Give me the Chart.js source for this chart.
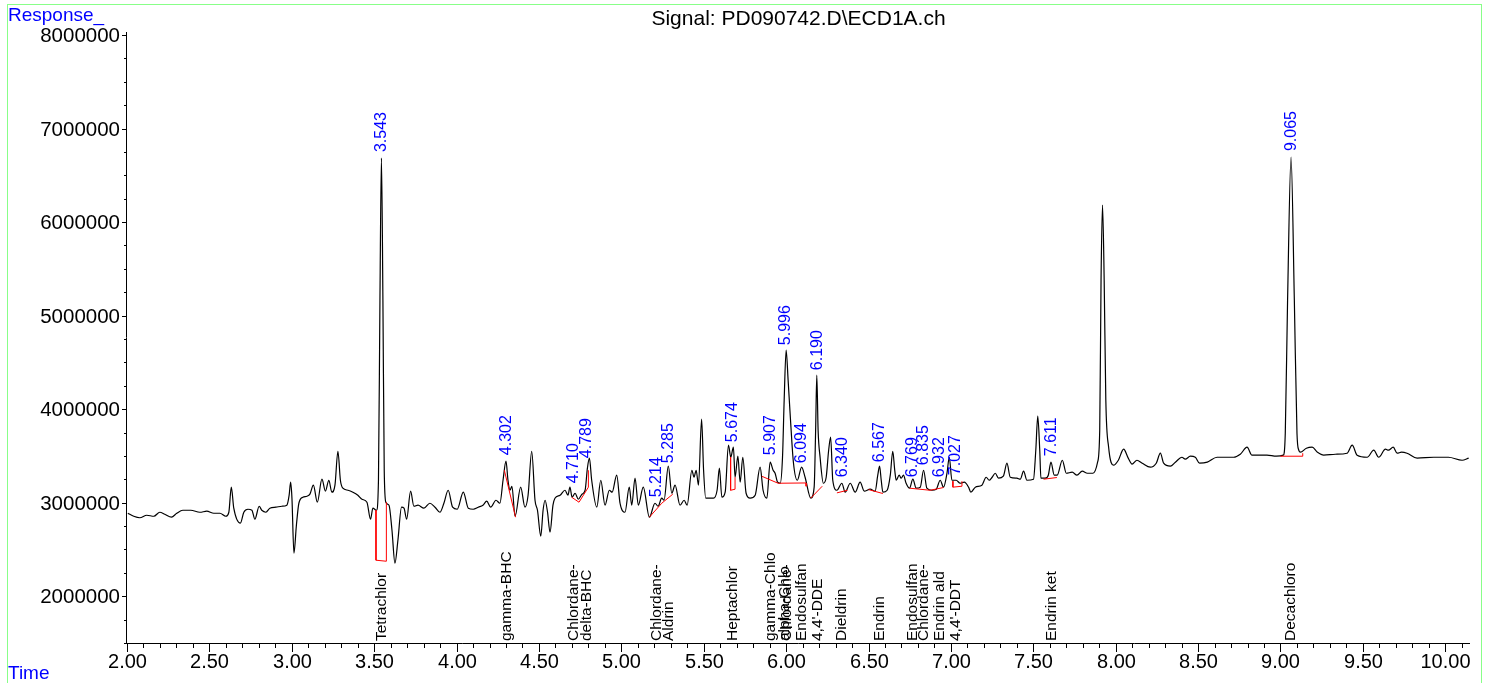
<!DOCTYPE html>
<html>
<head>
<meta charset="utf-8">
<script src="https://cdn.jsdelivr.net/npm/chart.js@4.4.1/dist/chart.umd.min.js"></script>
<style>
  html, body { margin: 0; padding: 0; background: #fff; overflow: hidden; }
  canvas { display: block; }
</style>
</head>
<body>
<canvas id="chrom" width="1485" height="683"></canvas>
<script>
// retention time (min) and detector response (millions of counts)
const times = [
  2.005, 2.041, 2.078, 2.120, 2.163, 2.199, 2.229, 2.270, 2.302, 2.339, 2.387, 2.442, 2.484, 2.527, 2.564,
  2.600, 2.618, 2.633, 2.648, 2.688, 2.709, 2.734, 2.758, 2.776, 2.802, 2.818, 2.843, 2.867, 2.904, 2.940,
  2.970, 2.984, 2.993, 3.001, 3.013, 3.028, 3.043, 3.067, 3.092, 3.110, 3.131, 3.155, 3.183, 3.204, 3.225,
  3.243, 3.262, 3.280, 3.295, 3.310, 3.341, 3.371, 3.401, 3.426, 3.456, 3.478, 3.492, 3.514, 3.526, 3.535,
  3.544, 3.553, 3.561, 3.571, 3.590, 3.608, 3.626, 3.644, 3.666, 3.681, 3.697, 3.721, 3.741, 3.766, 3.802,
  3.838, 3.869, 3.899, 3.923, 3.949, 3.976, 4.004, 4.041, 4.071, 4.101, 4.132, 4.160, 4.183, 4.207, 4.239,
  4.263, 4.282, 4.300, 4.312, 4.324, 4.336, 4.355, 4.389, 4.415, 4.434, 4.456, 4.476, 4.491, 4.511, 4.525,
  4.537, 4.552, 4.567, 4.585, 4.597, 4.628, 4.658, 4.676, 4.688, 4.701, 4.719, 4.739, 4.761, 4.780, 4.794,
  4.806, 4.820, 4.851, 4.875, 4.901, 4.927, 4.944, 4.972, 4.992, 5.022, 5.048, 5.063, 5.083, 5.103, 5.133,
  5.170, 5.204, 5.223, 5.245, 5.259, 5.285, 5.306, 5.326, 5.356, 5.381, 5.399, 5.428, 5.441, 5.454, 5.468,
  5.487, 5.499, 5.512, 5.559, 5.581, 5.595, 5.610, 5.630, 5.650, 5.664, 5.680, 5.690, 5.707, 5.721, 5.737,
  5.757, 5.781, 5.812, 5.842, 5.860, 5.883, 5.903, 5.921, 5.933, 5.948, 5.964, 5.978, 5.988, 6.000, 6.012,
  6.024, 6.044, 6.068, 6.094, 6.115, 6.150, 6.170, 6.179, 6.186, 6.194, 6.206, 6.226, 6.243, 6.258, 6.270,
  6.283, 6.308, 6.338, 6.358, 6.389, 6.419, 6.449, 6.474, 6.510, 6.540, 6.556, 6.567, 6.577, 6.587, 6.613,
  6.632, 6.647, 6.659, 6.668, 6.686, 6.698, 6.712, 6.728, 6.749, 6.769, 6.789, 6.814, 6.834, 6.854, 6.885,
  6.911, 6.935, 6.955, 6.976, 6.990, 7.006, 7.032, 7.056, 7.081, 7.107, 7.121, 7.148, 7.188, 7.214, 7.232,
  7.250, 7.269, 7.289, 7.318, 7.340, 7.360, 7.400, 7.421, 7.441, 7.461, 7.501, 7.515, 7.527, 7.539, 7.546,
  7.572, 7.591, 7.607, 7.627, 7.645, 7.676, 7.700, 7.736, 7.765, 7.797, 7.828, 7.862, 7.890, 7.903, 7.911,
  7.920, 7.930, 7.940, 7.957, 7.987, 8.016, 8.048, 8.076, 8.099, 8.129, 8.161, 8.210, 8.246, 8.271, 8.291,
  8.332, 8.362, 8.402, 8.422, 8.453, 8.483, 8.509, 8.556, 8.615, 8.716, 8.756, 8.797, 8.827, 8.918, 8.975,
  9.017, 9.029, 9.043, 9.064, 9.084, 9.100, 9.111, 9.121, 9.157, 9.192, 9.224, 9.262, 9.333, 9.404, 9.435,
  9.465, 9.526, 9.566, 9.596, 9.637, 9.655, 9.684, 9.708, 9.734, 9.768, 9.829, 9.930, 10.019, 10.102, 10.142
];
const responseM = [
  2.887, 2.855, 2.839, 2.866, 2.855, 2.898, 2.877, 2.845, 2.887, 2.919, 2.919, 2.898, 2.909, 2.887, 2.887,
  2.855, 2.898, 3.166, 2.941, 2.781, 2.898, 2.930, 2.919, 2.823, 2.962, 2.919, 2.898, 2.941, 2.952, 2.962,
  2.973, 3.080, 3.219, 3.048, 2.460, 2.759, 2.994, 3.058, 3.069, 3.091, 3.187, 3.005, 3.251, 3.123, 3.240,
  3.112, 3.187, 3.550, 3.240, 3.155, 3.133, 3.112, 3.080, 3.037, 3.005, 2.823, 2.941, 2.919, 3.240, 5.166,
  6.684, 5.166, 3.347, 3.005, 2.973, 2.706, 2.353, 2.598, 2.952, 2.941, 2.823, 3.123, 2.962, 2.973, 2.941,
  2.994, 2.952, 2.898, 2.994, 3.133, 2.952, 2.930, 3.112, 2.941, 2.930, 2.952, 2.973, 3.016, 2.952, 3.026,
  2.994, 3.240, 3.444, 3.240, 3.133, 3.176, 2.855, 3.166, 2.952, 3.080, 3.550, 3.026, 2.919, 2.641, 2.919,
  3.026, 2.898, 2.684, 2.973, 3.048, 3.080, 3.133, 3.080, 3.166, 3.058, 3.101, 3.037, 3.091, 3.133, 3.369,
  3.476, 3.240, 2.952, 3.240, 2.973, 3.133, 3.112, 3.294, 2.994, 2.898, 3.166, 2.973, 3.262, 2.973, 3.166,
  2.845, 2.994, 2.962, 3.048, 3.026, 3.390, 3.101, 3.187, 2.973, 3.026, 2.973, 3.347, 3.272, 3.347, 3.187,
  3.893, 3.347, 3.048, 3.048, 3.133, 3.369, 3.058, 3.112, 3.615, 3.486, 3.593, 3.272, 3.497, 3.219, 3.486,
  3.101, 3.048, 3.080, 3.380, 3.133, 3.048, 3.433, 3.347, 3.315, 3.219, 3.208, 3.486, 4.096, 4.631, 4.310,
  3.957, 3.433, 3.240, 3.380, 3.272, 3.048, 3.166, 3.775, 4.363, 3.775, 3.486, 3.208, 3.272, 3.561, 3.700,
  3.240, 3.133, 3.208, 3.112, 3.208, 3.112, 3.219, 3.123, 3.144, 3.123, 3.294, 3.390, 3.240, 3.112, 3.133,
  3.294, 3.550, 3.347, 3.240, 3.294, 3.262, 3.294, 3.208, 3.155, 3.251, 3.155, 3.166, 3.347, 3.155, 3.133,
  3.144, 3.240, 3.166, 3.315, 3.486, 3.240, 3.240, 3.208, 3.219, 3.166, 3.112, 3.166, 3.187, 3.272, 3.240,
  3.272, 3.315, 3.262, 3.283, 3.422, 3.272, 3.262, 3.251, 3.337, 3.240, 3.251, 3.561, 3.925, 3.561, 3.262,
  3.262, 3.294, 3.433, 3.294, 3.294, 3.454, 3.315, 3.326, 3.294, 3.337, 3.315, 3.315, 3.433, 3.775, 5.379,
  6.182, 5.379, 4.096, 3.593, 3.401, 3.454, 3.572, 3.476, 3.412, 3.454, 3.422, 3.380, 3.422, 3.529, 3.422,
  3.390, 3.433, 3.486, 3.465, 3.497, 3.486, 3.422, 3.433, 3.486, 3.486, 3.518, 3.593, 3.508, 3.508, 3.497,
  3.508, 3.743, 5.166, 6.695, 5.166, 3.743, 3.561, 3.540, 3.582, 3.593, 3.540, 3.508, 3.518, 3.529, 3.615,
  3.508, 3.486, 3.561, 3.486, 3.572, 3.561, 3.593, 3.529, 3.540, 3.529, 3.476, 3.486, 3.486, 3.454, 3.476
];

// integration baselines (red), null = break between segments
const baseTimes = [3.511, 3.511, 3.574, 3.574, 3.574, 4.290, 4.358, 4.358, 4.699, 4.743, 4.800, 4.800, 4.800,
  5.170, 5.245, 5.312, 5.312, 5.663, 5.663, 5.690, 5.690, 5.690, 5.852, 5.951, 6.121, 6.121, 6.121,
  6.149, 6.219, 6.219, 6.308, 6.372, 6.372, 6.500, 6.587, 6.587, 6.749, 6.874, 6.955, 6.955,
  7.012, 7.012, 7.067, 7.067, 7.067, 7.562, 7.643, 7.643, 8.999, 9.135, 9.135];
const baseRespM = [2.919, 2.385, 2.374, 3.005, null, 3.347, 2.845, null, 3.058, 3.005, 3.166, 3.347, null,
  2.845, 2.994, 3.091, null, 3.486, 3.133, 3.144, 3.272, null, 3.283, 3.208, 3.211, 3.176, null,
  3.048, 3.176, null, 3.105, 3.133, null, 3.140, 3.098, null, 3.155, 3.133, 3.162, null,
  3.230, 3.166, 3.176, 3.230, null, 3.251, 3.269, null, 3.497, 3.497, 3.529];

// reported peaks
const peakTimes = ['3.543', '4.302', '4.710', '4.789', '5.214', '5.285', '5.674', '5.907', '5.996', '6.094',
  '6.190', '6.340', '6.567', '6.769', '6.835', '6.932', '7.027', '7.611', '9.065'];
const peakTopsM = [6.684, 3.444, 3.144, 3.412, 2.994, 3.358, 3.583, 3.444, 4.620, 3.358,
  4.353, 3.208, 3.369, 3.208, 3.337, 3.208, 3.230, 3.433, 6.695];

// compound names printed along the time axis
const compoundNames = ['Tetrachlor', 'gamma-BHC', 'Chlordane-', 'delta-BHC', 'Chlordane-', 'Aldrin', 'Heptachlor',
  'gamma-Chlo', 'alpha-Chlo', 'Chlordane-', 'Endosulfan', "4,4'-DDE", 'Dieldrin', 'Endrin', 'Endosulfan',
  'Chlordane-', 'Endrin ald', "4,4'-DDT", 'Endrin ket', 'Decachloro'];
const compoundTimes = [3.543, 4.302, 4.710, 4.789, 5.214, 5.285, 5.674, 5.907, 5.990, 6.002, 6.094, 6.190,
  6.340, 6.567, 6.769, 6.835, 6.932, 7.027, 7.611, 9.065];

const FONT = '"Liberation Sans", Arial, sans-serif';

const trace = times.map((t, i) => ({ x: t, y: responseM[i] * 1e6 }));
const baselines = baseTimes.map((t, i) => ({ x: t, y: baseRespM[i] === null ? null : baseRespM[i] * 1e6 }));

const decor = {
  id: 'decor',
  beforeDraw(chart) {
    const ctx = chart.ctx;
    ctx.save();
    ctx.fillStyle = '#fff';
    ctx.fillRect(0, 0, chart.width, chart.height);
    ctx.strokeStyle = '#88ff88';
    ctx.lineWidth = 1;
    ctx.strokeRect(7.5, 4.5, 1474, 720);
    ctx.restore();
  },
  afterDraw(chart) {
    const ctx = chart.ctx;
    const xs = chart.scales.x, ys = chart.scales.y;
    const a = chart.chartArea;
    ctx.save();
    ctx.strokeStyle = '#000';
    ctx.fillStyle = '#000';
    ctx.lineWidth = 1;

    // axes lines
    ctx.beginPath();
    ctx.moveTo(a.left, Math.round(a.bottom) + 0.5);
    ctx.lineTo(a.right, Math.round(a.bottom) + 0.5);
    ctx.moveTo(Math.round(a.left) - 0.5, a.top - 3);
    ctx.lineTo(Math.round(a.left) - 0.5, a.bottom);
    ctx.stroke();

    // time ticks every 0.1, labels every 0.5
    ctx.font = '20px ' + FONT;
    ctx.textAlign = 'center';
    ctx.textBaseline = 'top';
    for (let k = 20; k <= 101; k++) {
      const px = Math.round(xs.getPixelForValue(k / 10)) + 0.5;
      const major = k % 5 === 0;
      ctx.beginPath();
      ctx.moveTo(px, a.bottom);
      ctx.lineTo(px, a.bottom + (major ? 9 : 5));
      ctx.stroke();
      if (major) ctx.fillText((k / 10).toFixed(2), px, a.bottom + 9);
    }

    // response ticks every 250000, labels every 1000000
    ctx.textAlign = 'right';
    ctx.textBaseline = 'middle';
    ctx.font = '20.5px ' + FONT;
    for (let v = 1500000; v <= 8000000; v += 250000) {
      const py = Math.round(ys.getPixelForValue(v)) + 0.5;
      const major = v % 1000000 === 0;
      ctx.beginPath();
      ctx.moveTo(a.left, py);
      ctx.lineTo(a.left - (major ? 5 : 3), py);
      ctx.stroke();
      if (major) ctx.fillText(String(v), a.left - 7, py + 1);
    }

    // title and axis captions
    ctx.textBaseline = 'alphabetic';
    ctx.textAlign = 'center';
    ctx.font = '21px ' + FONT;
    ctx.fillText('Signal: PD090742.D\\ECD1A.ch', (a.left + a.right) / 2, 25);
    ctx.fillStyle = '#0000ff';
    ctx.textAlign = 'left';
    ctx.font = '19px ' + FONT;
    ctx.fillText('Response_', 8, 21);
    ctx.fillText('Time', 8, 679);

    // peak retention-time labels
    ctx.font = '16px ' + FONT;
    ctx.textBaseline = 'middle';
    peakTimes.forEach((lab, i) => {
      const px = xs.getPixelForValue(parseFloat(lab));
      const py = ys.getPixelForValue(peakTopsM[i] * 1e6) - 6;
      ctx.save();
      ctx.translate(px, py);
      ctx.rotate(-Math.PI / 2);
      ctx.fillText(lab, 0, 0);
      ctx.restore();
    });

    // compound names
    ctx.fillStyle = '#000';
    ctx.font = '15.5px ' + FONT;
    compoundNames.forEach((name, i) => {
      const px = xs.getPixelForValue(compoundTimes[i]);
      ctx.save();
      ctx.translate(px, a.bottom - 2);
      ctx.rotate(-Math.PI / 2);
      ctx.fillText(name, 0, 0);
      ctx.restore();
    });
    ctx.restore();
  }
};

new Chart(document.getElementById('chrom'), {
  type: 'line',
  data: {
    datasets: [
      {
        data: baselines,
        borderColor: '#ff0000',
        borderWidth: 1,
        pointRadius: 0,
        spanGaps: false,
        tension: 0,
        order: 0
      },
      {
        data: trace,
        borderColor: '#000000',
        borderWidth: 1.2,
        pointRadius: 0,
        cubicInterpolationMode: 'monotone',
        order: 1
      }
    ]
  },
  options: {
    responsive: false,
    animation: false,
    devicePixelRatio: 1,
    layout: { padding: { left: 127, right: 15, top: 35, bottom: 40 } },
    plugins: { legend: { display: false }, tooltip: { enabled: false }, title: { display: false } },
    scales: {
      x: { type: 'linear', min: 2, max: 10.15, display: false },
      y: { type: 'linear', min: 1500000, max: 8000000, display: false }
    }
  },
  plugins: [decor]
});
</script>
</body>
</html>
